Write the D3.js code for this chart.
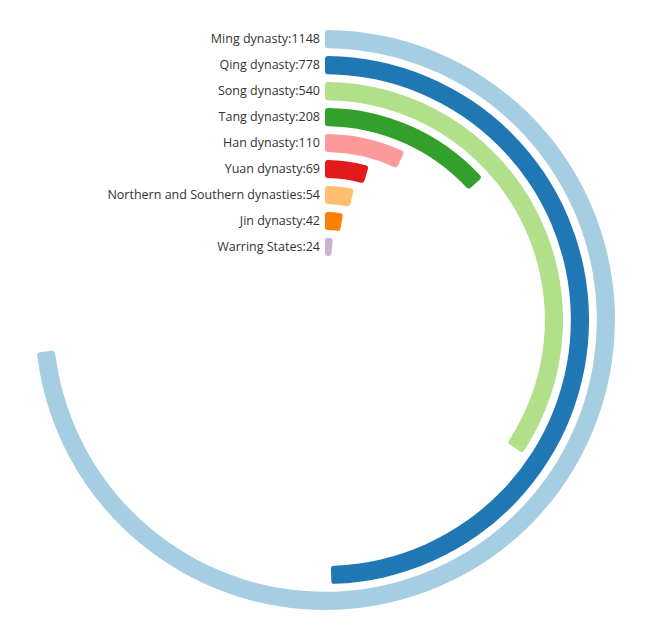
<!DOCTYPE html>
<html>
<head>
<meta charset="utf-8">
<script src="https://cdn.jsdelivr.net/npm/d3@7"></script>
<style>
  body { margin: 0; background: #fff; }
  text { font-family: "Open Sans", sans-serif; }
</style>
</head>
<body>
<div id="chart"></div>
<script>
// dynasties and values, outermost ring first
var names = ["Ming dynasty", "Qing dynasty", "Song dynasty", "Tang dynasty", "Han dynasty",
             "Yuan dynasty", "Northern and Southern dynasties", "Jin dynasty", "Warring States"];
var values = [1148, 778, 540, 208, 110, 69, 54, 42, 24];

var width = 651, height = 637;
var cx = 325, cy = 320;
var innerRadius = 64, outerRadius = 290;

var svg = d3.select("#chart")
  .append("svg")
    .attr("width", width)
    .attr("height", height)
  .append("g")
    .attr("transform", "translate(" + cx + "," + cy + ")");

var data = names.map(function (n, i) { return {name: n, value: values[i]}; });

// innermost band first
var y = d3.scaleBand()
  .domain(names.slice().reverse())
  .range([innerRadius, outerRadius])
  .paddingInner(0.3)
  .paddingOuter(0);

var x = d3.scaleLinear()
  .domain([0, d3.max(values)])
  .range([0, 4.6]);

var color = d3.scaleOrdinal()
  .domain(names)
  .range(d3.schemePaired);

var arc = d3.arc()
  .innerRadius(function (d) { return y(d.name); })
  .outerRadius(function (d) { return y(d.name) + y.bandwidth(); })
  .startAngle(0)
  .endAngle(function (d) { return x(d.value); })
  .cornerRadius(3);

svg.selectAll("path")
  .data(data)
  .enter()
  .append("path")
    .attr("fill", function (d) { return color(d.name); })
    .attr("d", arc);

svg.selectAll("text")
  .data(data)
  .enter()
  .append("text")
    .attr("x", -5)
    .attr("y", function (d) { return -(y(d.name) + y.bandwidth() / 2); })
    .attr("dy", "0.35em")
    .attr("text-anchor", "end")
    .attr("font-size", 12.5)
    .attr("fill", "#333")
    .text(function (d) { return d.name + ":" + d.value; });
</script>
</body>
</html>
